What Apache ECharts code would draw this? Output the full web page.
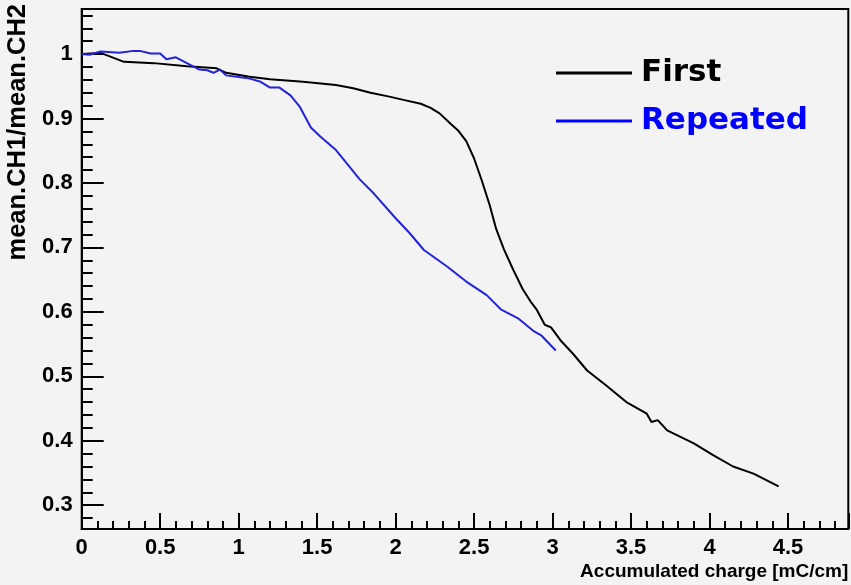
<!DOCTYPE html>
<html>
<head>
<meta charset="utf-8">
<script src="https://cdn.jsdelivr.net/npm/echarts@6/dist/echarts.min.js"></script>
<style>
html,body{margin:0;padding:0;background:#f3f3f3;}
#chart{width:851px;height:585px;}
</style>
</head>
<body>
<div id="chart"></div>
<script>
// ---- data ----
const firstX = [0, 0.06, 0.12, 0.27, 0.46, 0.67, 0.86, 0.92, 1.07, 1.2, 1.41, 1.62, 1.73, 1.84, 1.96, 2.05, 2.16, 2.22, 2.28, 2.35, 2.40, 2.45, 2.50, 2.55, 2.60, 2.64, 2.69, 2.75, 2.81, 2.86, 2.90, 2.95, 2.99, 3.05, 3.13, 3.22, 3.34, 3.47, 3.60, 3.63, 3.67, 3.73, 3.90, 4.02, 4.15, 4.28, 4.44];
const firstY = [1.0, 1.001, 1.002, 0.988, 0.986, 0.981, 0.978, 0.971, 0.965, 0.961, 0.957, 0.952, 0.947, 0.940, 0.934, 0.929, 0.923, 0.917, 0.908, 0.892, 0.881, 0.865, 0.838, 0.803, 0.765, 0.729, 0.697, 0.665, 0.635, 0.616, 0.603, 0.580, 0.576, 0.556, 0.535, 0.509, 0.486, 0.460, 0.442, 0.429, 0.432, 0.416, 0.396, 0.378, 0.360, 0.349, 0.329];
const repeatedX = [0, 0.05, 0.12, 0.24, 0.33, 0.37, 0.44, 0.50, 0.54, 0.60, 0.67, 0.75, 0.80, 0.84, 0.88, 0.92, 1.07, 1.14, 1.20, 1.26, 1.33, 1.39, 1.46, 1.52, 1.62, 1.69, 1.77, 1.86, 1.99, 2.09, 2.18, 2.33, 2.45, 2.58, 2.67, 2.78, 2.88, 2.93, 3.02];
const repeatedY = [1.0, 0.999, 1.004, 1.002, 1.005, 1.005, 1.001, 1.001, 0.992, 0.995, 0.986, 0.976, 0.975, 0.971, 0.976, 0.967, 0.962, 0.957, 0.948, 0.948, 0.936, 0.918, 0.886, 0.872, 0.851, 0.830, 0.806, 0.784, 0.748, 0.722, 0.696, 0.670, 0.647, 0.626, 0.604, 0.590, 0.570, 0.563, 0.540];
const seriesNames = ['First', 'Repeated'];
const xTitle = 'Accumulated charge [mC/cm]';
const yTitle = 'mean.CH1/mean.CH2';
const xRange = [0, 4.884];
const yRange = [0.263, 1.07];

const zip = (xs, ys) => xs.map((x, i) => [x, ys[i]]);
const FONT = '"Liberation Sans", Arial, sans-serif';

const chart = echarts.init(document.getElementById('chart'), null, {renderer: 'canvas'});
chart.setOption({
  backgroundColor: '#f3f3f3',
  animation: false,
  grid: {
    left: 81.7, right: 2.7, top: 9, bottom: 56,
    show: true, borderColor: '#000', borderWidth: 2, backgroundColor: 'transparent',
    containLabel: false, outerBoundsMode: 'none'
  },
  legend: {
    orient: 'vertical', left: 556, top: 55, padding: 0,
    icon: 'rect', itemWidth: 76, itemHeight: 3, itemGap: 12,
    textStyle: {fontFamily: '"DejaVu Sans", sans-serif', fontWeight: 'bold', fontSize: 31, lineHeight: 36, padding: [0,0,0,4]},
    data: [
      {name: seriesNames[0], textStyle: {color: '#000000'}},
      {name: seriesNames[1], textStyle: {color: '#0000ff'}}
    ]
  },
  xAxis: {
    type: 'value', min: xRange[0], max: xRange[1], interval: 0.5,
    name: xTitle, nameLocation: 'end', nameGap: 0, nameMoveOverlap: false,
    nameTextStyle: {fontFamily: FONT, fontWeight: 'bold', fontSize: 19, color: '#000', align: 'right', verticalAlign: 'top', padding: [33, 0, 0, 0]},
    axisLine: {show: true, onZero: false, lineStyle: {color: '#000', width: 2}},
    axisTick: {show: true, inside: true, length: 16, lineStyle: {color: '#000', width: 2}},
    minorTick: {show: true, splitNumber: 5, length: 8, lineStyle: {color: '#000', width: 2}},
    splitLine: {show: false},
    axisLabel: {
      fontFamily: FONT, fontWeight: 'bold', fontSize: 22, color: '#000', margin: 8,
      showMaxLabel: false,
      formatter: v => (Math.abs(v * 2 - Math.round(v * 2)) < 1e-6 && v <= 4.5 + 1e-6) ? String(+v.toFixed(1)) : ''
    }
  },
  yAxis: {
    type: 'value', min: yRange[0], max: yRange[1], splitNumber: 8,
    name: yTitle, nameLocation: 'end', nameRotate: 90, nameGap: 5, nameMoveOverlap: false,
    nameTextStyle: {fontFamily: FONT, fontWeight: 'bold', fontSize: 25.5, color: '#000', align: 'right', verticalAlign: 'bottom', padding: [0, 0, 51, 0]},
    axisLine: {show: true, onZero: false, lineStyle: {color: '#000', width: 2}},
    axisTick: {show: true, inside: true, length: 22, lineStyle: {color: '#000', width: 2}},
    minorTick: {show: true, splitNumber: 5, length: 11, lineStyle: {color: '#000', width: 2}},
    splitLine: {show: false},
    axisLabel: {
      fontFamily: FONT, fontWeight: 'bold', fontSize: 22, color: '#000', margin: 9,
      showMinLabel: false, showMaxLabel: false,
      formatter: v => (Math.abs(v * 10 - Math.round(v * 10)) < 1e-6) ? String(+v.toFixed(1)) : ''
    }
  },
  series: [
    {
      name: seriesNames[0], type: 'line', data: zip(firstX, firstY),
      showSymbol: false, symbol: 'none', color: '#000000',
      lineStyle: {color: '#000000', width: 2}
    },
    {
      name: seriesNames[1], type: 'line', data: zip(repeatedX, repeatedY),
      showSymbol: false, symbol: 'none', color: '#0000ff',
      lineStyle: {color: '#2323d8', width: 2}
    }
  ]
});
</script>
</body>
</html>
